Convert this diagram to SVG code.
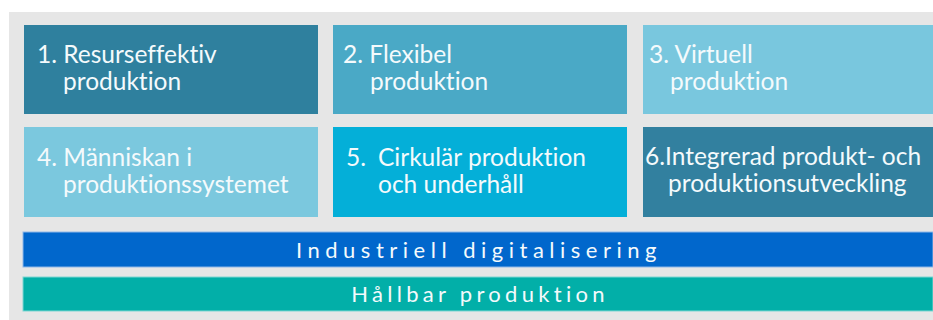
<svg xmlns="http://www.w3.org/2000/svg" width="933" height="320" viewBox="0 0 933 320">
<style>
.t{font-family:Lato,"Open Sans","Liberation Sans",sans-serif;font-size:24.5px;fill:#F4FAFC;font-variant-ligatures:none;font-feature-settings:"liga" 0}
.b{font-family:Lato,"Open Sans","Liberation Sans",sans-serif;font-size:22px;fill:#F4FAFC;text-anchor:middle;font-variant-ligatures:none;font-feature-settings:"liga" 0}
</style>
<rect x="0" y="0" width="933" height="320" fill="#FFFFFF"/>
<rect x="9" y="12" width="924" height="308" fill="#E6E6E6"/>
<g id="node1"><rect x="24" y="25" width="294" height="89" fill="#2F809E"/>
<text class="t" x="37" y="63">1. Resurseffektiv</text><text class="t" x="63" y="90">produktion</text></g>
<g id="node2"><rect x="333" y="25" width="294" height="89" fill="#4AA9C6"/>
<text class="t" x="343" y="63">2. Flexibel</text><text class="t" x="370" y="90">produktion</text></g>
<g id="node3"><rect x="643" y="25" width="290" height="89" fill="#79C7DE"/>
<text class="t" x="649" y="63">3. Virtuell</text><text class="t" x="670" y="90">produktion</text></g>
<g id="node4"><rect x="24" y="127" width="294" height="90" fill="#7BC8DE"/>
<text class="t" x="37" y="166">4. Människan i</text><text class="t" x="63" y="193">produktionssystemet</text></g>
<g id="node5"><rect x="333" y="127" width="294" height="90" fill="#04AFD8"/>
<text class="t" x="346" y="166">5.</text><text class="t" x="378" y="166">Cirkulär produktion</text><text class="t" x="378" y="193">och underhåll</text></g>
<g id="node6"><rect x="643" y="127" width="290" height="90" fill="#32809F"/>
<text class="t" x="645" y="165">6.Integrerad produkt- och</text><text class="t" x="668" y="192">produktionsutveckling</text></g>
<g id="bar1"><rect x="23" y="232" width="910" height="35" fill="#0167CC" stroke="#8FB8E8" stroke-width="1"/>
<text class="b" x="479" y="258" style="letter-spacing:5.5px">Industriell digitalisering</text></g>
<g id="bar2"><rect x="23" y="277" width="910" height="34" fill="#02AFA8" stroke="#7FD6D2" stroke-width="1"/>
<text class="b" x="480" y="302" style="letter-spacing:4.3px">Hållbar produktion</text></g>
<g id="connectors"/>
</svg>
